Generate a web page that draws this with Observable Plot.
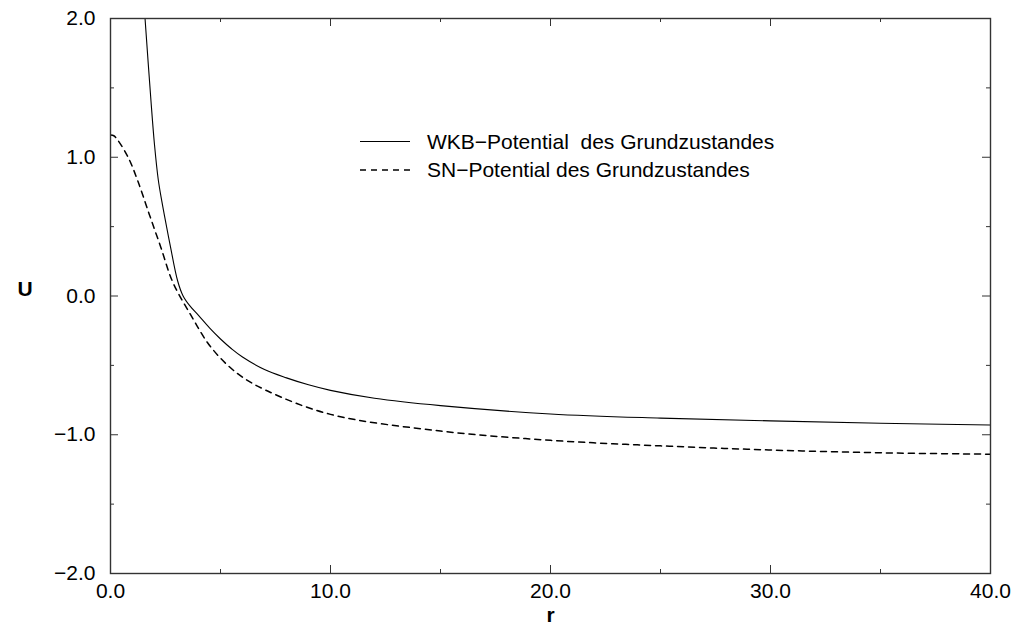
<!DOCTYPE html>
<html><head><meta charset="utf-8">
<script src="https://cdn.jsdelivr.net/npm/d3@7"></script>
<script src="https://cdn.jsdelivr.net/npm/@observablehq/plot@0.6"></script>
<style>body{margin:0;background:#fff} #chart svg{display:block}</style>
</head><body><div id="chart"></div>
<script>
// WKB potential (solid)
const wkbR = [1.57, 1.84, 2.0, 2.17, 2.33, 2.44, 2.72, 3.05, 3.3, 3.6, 4.0, 4.5, 5.0, 5.5, 6.0, 7.0, 8.0, 9.0, 10.0, 12.0, 15.0, 20.0, 25.0, 30.0, 35.0, 40.0];
const wkbU = [2.0, 1.405, 1.09, 0.84, 0.685, 0.59, 0.36, 0.11, 0.0, -0.07, -0.14, -0.23, -0.31, -0.38, -0.44, -0.53, -0.59, -0.64, -0.68, -0.737, -0.79, -0.85, -0.88, -0.90, -0.917, -0.93];
// SN potential (dashed)
const snR = [0.0, 0.15, 0.3, 0.8, 1.24, 1.76, 2.29, 2.83, 3.66, 4.57, 5.78, 7.14, 10.0, 15.0, 20.0, 25.0, 30.0, 35.0, 40.0];
const snU = [1.16, 1.155, 1.13, 1.0, 0.83, 0.59, 0.35, 0.10, -0.14, -0.37, -0.56, -0.685, -0.853, -0.973, -1.04, -1.08, -1.11, -1.13, -1.14];

const xMajor = [0, 10, 20, 30, 40];
const xMinor = [5, 15, 25, 35];
const yMajor = [-2, -1, 0, 1, 2];
const yMinor = [-1.5, -0.5, 0.5, 1.5];
const legendLabels = ["WKB\u2212Potential  des Grundzustandes", "SN\u2212Potential des Grundzustandes"];
const xLabel = "r", yLabel = "U";

const W = 1013, H = 630, mL = 110, mR = 23, mT = 18, mB = 57;
const innerW = W - mL - mR, innerH = H - mT - mB;
const fmt = d3.format(".1f");
const wkb = wkbR.map((r, i) => ({r, U: wkbU[i]}));
const sn = snR.map((r, i) => ({r, U: snU[i]}));
const tickColor = "#333";

const plot = Plot.plot({
  width: W, height: H,
  marginLeft: mL, marginRight: mR, marginTop: mT, marginBottom: mB,
  style: {fontFamily: "'Liberation Sans', Arial, sans-serif", fontSize: "21px", background: "white", color: "black"},
  x: {domain: [0, 40]},
  y: {domain: [-2, 2]},
  marks: [
    Plot.axisX(xMajor, {tickSize: 0, tickPadding: 10, tickFormat: fmt, label: null, fontSize: 21}),
    Plot.axisY(yMajor, {tickSize: 0, tickPadding: 15, tickFormat: fmt, label: null, fontSize: 21}),
    Plot.line(wkb, {x: "r", y: "U", stroke: "black", strokeWidth: 1.1, curve: "catmull-rom", clip: true}),
    Plot.line(sn, {x: "r", y: "U", stroke: "black", strokeWidth: 1.5, strokeDasharray: "6,5", curve: "catmull-rom", clip: true}),
    // inward ticks: bottom, top
    Plot.ruleX(xMajor, {x: d => d, insetTop: innerH - 8, stroke: tickColor}),
    Plot.ruleX(xMinor, {x: d => d, insetTop: innerH - 4, stroke: tickColor}),
    Plot.ruleX(xMajor, {x: d => d, insetBottom: innerH - 8, stroke: tickColor}),
    Plot.ruleX(xMinor, {x: d => d, insetBottom: innerH - 4, stroke: tickColor}),
    // inward ticks: left, right
    Plot.ruleY(yMajor, {y: d => d, insetRight: innerW - 8, stroke: tickColor}),
    Plot.ruleY(yMinor, {y: d => d, insetRight: innerW - 4, stroke: tickColor}),
    Plot.ruleY(yMajor, {y: d => d, insetLeft: innerW - 8, stroke: tickColor}),
    Plot.ruleY(yMinor, {y: d => d, insetLeft: innerW - 4, stroke: tickColor}),
    Plot.frame({stroke: tickColor, strokeWidth: 1.4}),
    Plot.text([yLabel], {frameAnchor: "left", dx: -93, dy: -7, fontWeight: "bold", fontSize: 21}),
    Plot.text([xLabel], {frameAnchor: "bottom", dy: 48, fontWeight: "bold", fontSize: 21})
  ]
});
document.getElementById("chart").appendChild(plot);

// legend
const svg = d3.select(plot);
const lg = svg.append("g")
  .attr("font-family", "'Liberation Sans', Arial, sans-serif")
  .attr("font-size", 21)
  .attr("text-anchor", "start");
const legendStyles = [{dash: null, w: 1.1}, {dash: "6,5", w: 1.5}];
legendLabels.forEach((t, i) => {
  const y = 141.5 + i * 28.5;
  lg.append("line").attr("x1", 360).attr("x2", 410).attr("y1", y).attr("y2", y)
    .attr("stroke", "black").attr("stroke-width", legendStyles[i].w)
    .attr("stroke-dasharray", legendStyles[i].dash);
  lg.append("text").attr("x", 427).attr("y", y + 7).attr("fill", "black")
    .attr("text-anchor", "start")
    .style("white-space", "pre").attr("xml:space", "preserve").text(t);
});
</script>
</body></html>
